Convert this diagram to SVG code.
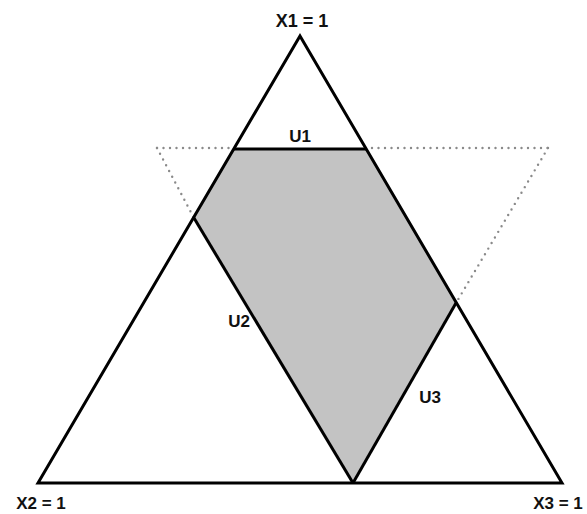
<svg xmlns="http://www.w3.org/2000/svg" width="587" height="514" viewBox="0 0 587 514">
<style>
.lbl{font-family:"Liberation Sans",Arial,sans-serif;font-weight:bold;font-size:17px;fill:#111}
.solid{fill:none;stroke:#000;stroke-width:3;stroke-linejoin:miter}
.dot{fill:none;stroke:#8a8a8a;stroke-width:2.4;stroke-dasharray:0 6.5;stroke-linecap:round}
</style>
<rect width="587" height="514" fill="#fff"/>
<g id="region">
<polygon points="234,149 366,149 456,303 353,483 194,218" fill="#c3c3c3"/>
</g>
<g id="connectors">
<g id="dotted-triangle">
<line class="dot" x1="157" y1="148" x2="232" y2="148"/>
<line class="dot" x1="372" y1="148" x2="548" y2="148"/>
<line class="dot" x1="548" y1="148" x2="456" y2="303"/>
<line class="dot" x1="157" y1="148" x2="194" y2="218"/>
</g>
<g id="simplex">
<polygon class="solid" points="300,36 562,483 38,483"/>
</g>
<line id="u1-line" class="solid" x1="234" y1="149" x2="366" y2="149"/>
<line id="u2-line" class="solid" x1="194" y1="218" x2="353" y2="483"/>
<line id="u3-line" class="solid" x1="456" y1="303" x2="353" y2="483"/>
</g>
<g id="labels">
<text class="lbl" x="302" y="27" text-anchor="middle" style="font-size:18px">X1 = 1</text>
<text class="lbl" x="41" y="509" text-anchor="middle">X2 = 1</text>
<text class="lbl" x="558" y="509" text-anchor="middle">X3 = 1</text>
<text class="lbl" x="300" y="142" text-anchor="middle">U1</text>
<text class="lbl" x="239" y="327" text-anchor="middle">U2</text>
<text class="lbl" x="430" y="403" text-anchor="middle">U3</text>
</g>
</svg>
